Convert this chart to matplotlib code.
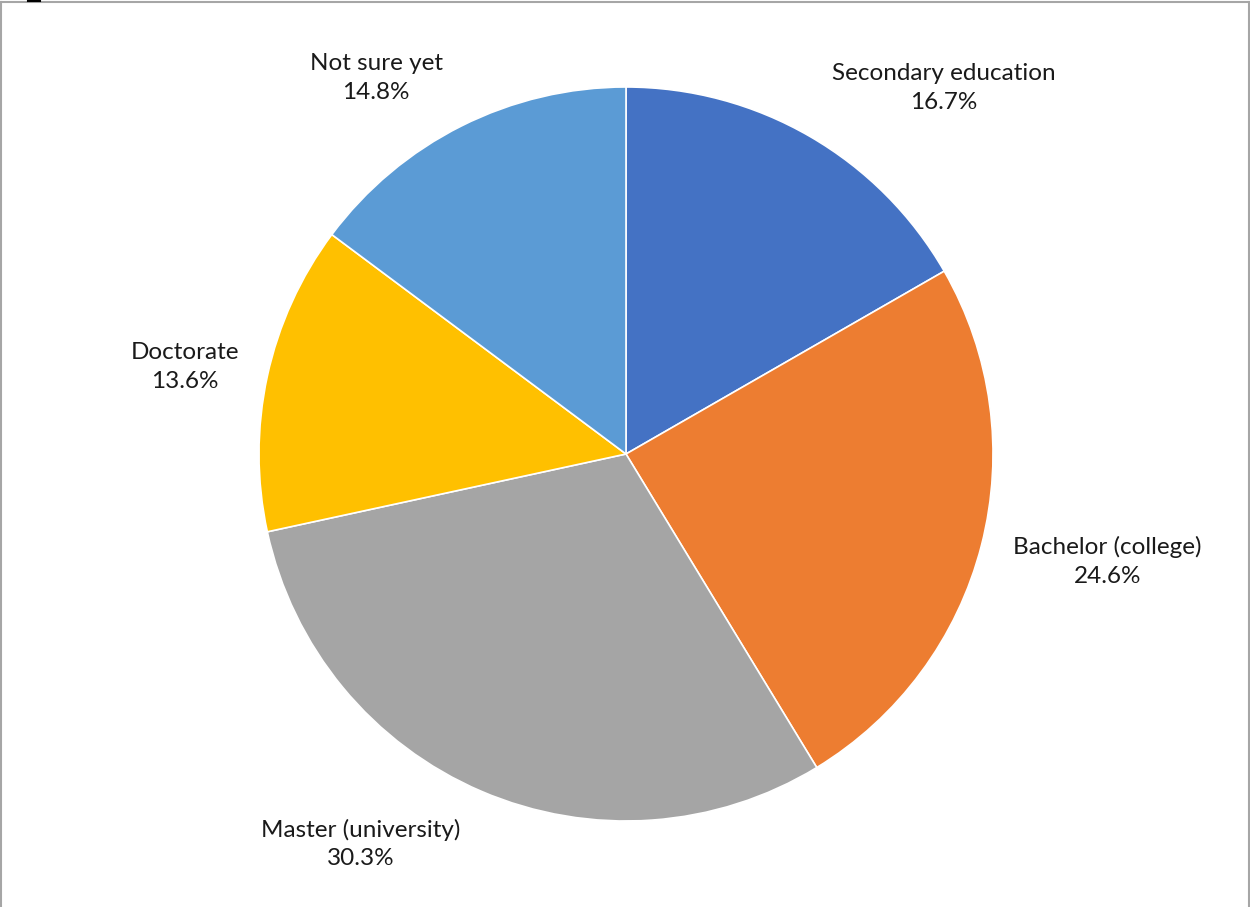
import matplotlib.pyplot as plt
from matplotlib.lines import Line2D

# education level share
categories = ["Secondary education", "Bachelor (college)", "Master (university)",
              "Doctorate", "Not sure yet"]
shares = [16.7, 24.6, 30.3, 13.6, 14.8]
colors = ["#4472C4", "#ED7D31", "#A5A5A5", "#FFC000", "#5B9BD5"]

# label centres, in units of the pie radius
label_pos = [(0.866, 0.997), (1.311, -0.292), (-0.722, -1.063),
             (-1.202, 0.237), (-0.681, 1.025)]

plt.rcParams['font.family'] = ['Lato', 'DejaVu Sans']

W, H = 1250, 907
R = 367.0
cx, cy = 626, 454

fig = plt.figure(figsize=(W / 100, H / 100), dpi=100)
ax = fig.add_axes([0, 0, 1, 1])
ax.pie(shares, colors=colors, startangle=90, counterclock=False, radius=1,
       wedgeprops=dict(edgecolor="white", linewidth=1.2))

for name, val, (lx, ly) in zip(categories, shares, label_pos):
    ax.text(lx, ly, f"{name}\n{val:.1f}%", ha="center", va="center",
            fontsize=17.5, color="#1a1a1a", linespacing=1.45)

ax.set_xlim(-cx / R, (W - cx) / R)
ax.set_ylim(-(H - cy) / R, cy / R)
ax.set_aspect("equal")
ax.axis("off")

# chart area border (left, top, right)
border = "#A6A6A6"
fig.add_artist(Line2D([1.5 / W, 1.5 / W], [0, 1 - 1.5 / H], color=border, lw=1.5))
fig.add_artist(Line2D([1.5 / W, 1 - 1.5 / W], [1 - 1.5 / H, 1 - 1.5 / H], color=border, lw=1.5))
fig.add_artist(Line2D([1 - 1.5 / W, 1 - 1.5 / W], [0, 1 - 1.5 / H], color=border, lw=1.5))
# small dark mark on the top edge
fig.add_artist(Line2D([28 / W, 40 / W], [1 - 0.8 / H, 1 - 0.8 / H], color="black", lw=1.5))

fig.savefig("out.png", dpi=100)
